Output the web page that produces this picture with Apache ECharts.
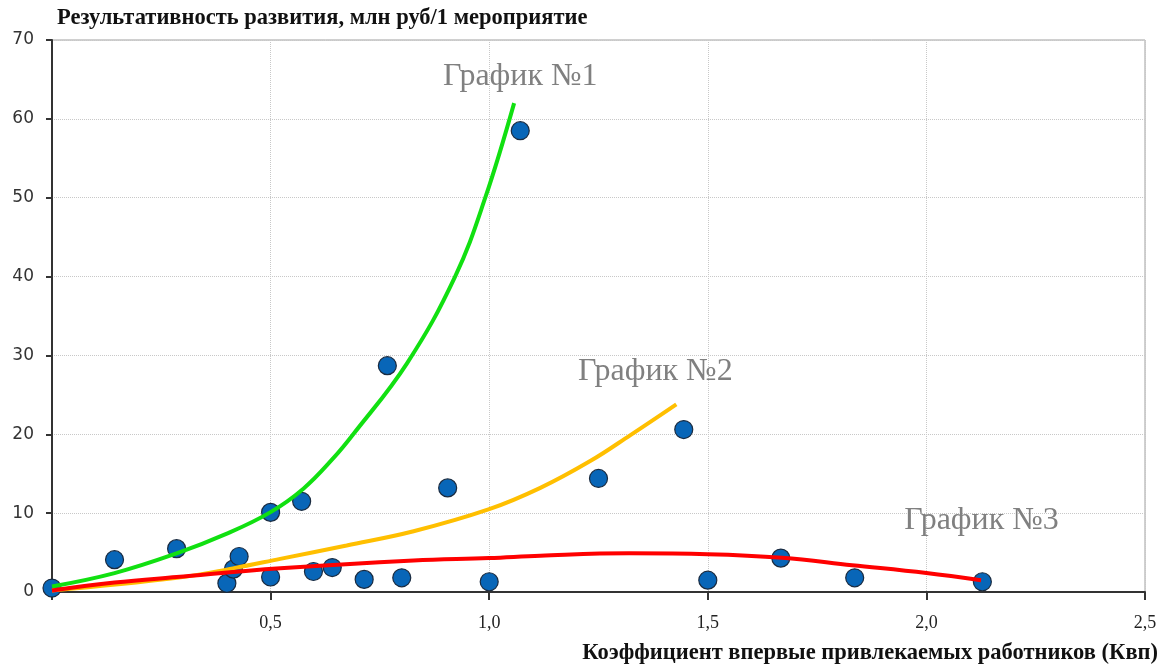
<!DOCTYPE html>
<html>
<head>
	<meta charset="utf-8">
	<title>Результативность развития</title>
	<style>
		html, body { margin: 0; padding: 0; background: #fff; }
	</style>
</head>

<body>
	<div style="width:1160px;height:668px;" id="chart1"></div>

	<script src="https://cdn.jsdelivr.net/npm/echarts@6/dist/echarts.min.js"></script>
	<script>

	// наблюдения (Квп ; млн руб/1 мероприятие)
	var pointX = [0, 0.143, 0.285, 0.4, 0.415, 0.428, 0.5, 0.5, 0.571, 0.598, 0.641, 0.714,
		0.767, 0.8, 0.905, 1.0, 1.071, 1.25, 1.445, 1.5, 1.667, 1.836, 2.128];
	var pointY = [0.5, 4.1, 5.5, 1.1, 2.9, 4.5, 10.1, 1.9, 11.5, 2.6, 3.1, 1.6,
		28.7, 1.8, 13.2, 1.3, 58.5, 14.4, 20.6, 1.5, 4.3, 1.8, 1.3];

	// График №1 (зелёный)
	var curve1X = [0, 0.143, 0.285, 0.4, 0.499, 0.575, 0.644, 0.689, 0.812, 0.922, 0.991, 1.057];
	var curve1Y = [0.7, 2.4, 4.9, 7.4, 10.1, 13.1, 17.0, 20.0, 29.0, 40.0, 50.0, 62.0];

	// График №2 (оранжевый)
	var curve2X = [0, 0.286, 0.414, 0.522, 0.674, 0.827, 1.0, 1.117, 1.231, 1.323, 1.428];
	var curve2Y = [0.2, 1.8, 3.0, 4.2, 5.9, 7.7, 10.5, 13.2, 16.6, 19.9, 23.8];

	// График №3 (красный)
	var curve3X = [0, 0.143, 0.285, 0.522, 0.827, 1.0, 1.117, 1.32, 1.5, 1.67, 1.83, 2.0, 2.125];
	var curve3Y = [0.2, 1.2, 1.9, 3.0, 4.0, 4.3, 4.6, 4.9, 4.8, 4.35, 3.4, 2.4, 1.5];

	var curveNames = ['График №1', 'График №2', 'График №3'];

	function zip(xs, ys) {
		var out = [];
		for (var i = 0; i < xs.length; i++) out.push([xs[i], ys[i]]);
		return out;
	}

	function curve(name, xs, ys, color, labelAt) {
		return {
			name: name,
			type: 'line',
			smooth: 0.4,
			showSymbol: false,
			symbol: 'none',
			data: zip(xs, ys),
			lineStyle: { color: color, width: 4 },
			z: 3,
			markPoint: {
				symbol: 'circle',
				symbolSize: 0,
				silent: true,
				label: {
					show: true,
					position: 'inside',
					formatter: name,
					fontFamily: '"Liberation Serif", serif',
					fontSize: 32,
					color: '#808080'
				},
				data: [{ coord: labelAt }]
			}
		};
	}

	var myChart = echarts.init(document.getElementById('chart1'));

	var option = {
		animation: false,
		backgroundColor: '#fff',
		grid: {
			left: 52, right: 15, top: 40, bottom: 76,
			show: true,
			borderColor: '#a0a0a0',
			borderWidth: 1
		},
		xAxis: {
			type: 'value',
			min: 0, max: 2.5, interval: 0.5,
			axisLine: { lineStyle: { color: '#333', width: 2 } },
			axisTick: { show: true, length: 8, lineStyle: { color: '#333', width: 2 } },
			splitLine: { show: true, lineStyle: { color: '#c8c8c8', type: 'dotted' } },
			axisLabel: {
				margin: 22,
				fontFamily: '"Liberation Serif", serif',
				fontSize: 18,
				color: '#222',
				formatter: function (v) {
					if (v === 0) return '';
					return v.toFixed(1).replace('.', ',');
				}
			}
		},
		yAxis: {
			type: 'value',
			min: 0, max: 70, interval: 10,
			axisLine: { show: true, lineStyle: { color: '#333', width: 2 } },
			axisTick: { show: true, length: 6, lineStyle: { color: '#333', width: 2 } },
			splitLine: { show: true, lineStyle: { color: '#c8c8c8', type: 'dotted' } },
			axisLabel: {
				margin: 18,
				fontFamily: '"DejaVu Sans", sans-serif',
				fontSize: 17,
				color: '#333'
			}
		},
		graphic: [
			{
				type: 'text', left: 57, top: 7,
				style: {
					text: 'Результативность развития, млн руб/1 мероприятие',
					font: 'bold 22.5px "Liberation Serif", serif',
					fill: '#111'
				}
			},
			{
				type: 'text', right: 2, top: 642,
				style: {
					text: 'Коэффициент впервые привлекаемых работников (Квп)',
					font: 'bold 22.5px "Liberation Serif", serif',
					fill: '#111'
				}
			}
		],
		series: [
			{
				name: 'Наблюдения',
				type: 'scatter',
				data: zip(pointX, pointY),
				symbol: 'circle',
				symbolSize: 18,
				itemStyle: { color: '#0866b8', borderColor: '#1a2b40', borderWidth: 1.2, opacity: 1 },
				z: 2
			},
			curve(curveNames[0], curve1X, curve1Y, '#11e011', [1.071, 65.3]),
			curve(curveNames[1], curve2X, curve2Y, '#ffbf00', [1.38, 28.0]),
			curve(curveNames[2], curve3X, curve3Y, '#ff0000', [2.126, 9.0])
		]
	};

	myChart.setOption(option);

	</script>
</body>

</html>
